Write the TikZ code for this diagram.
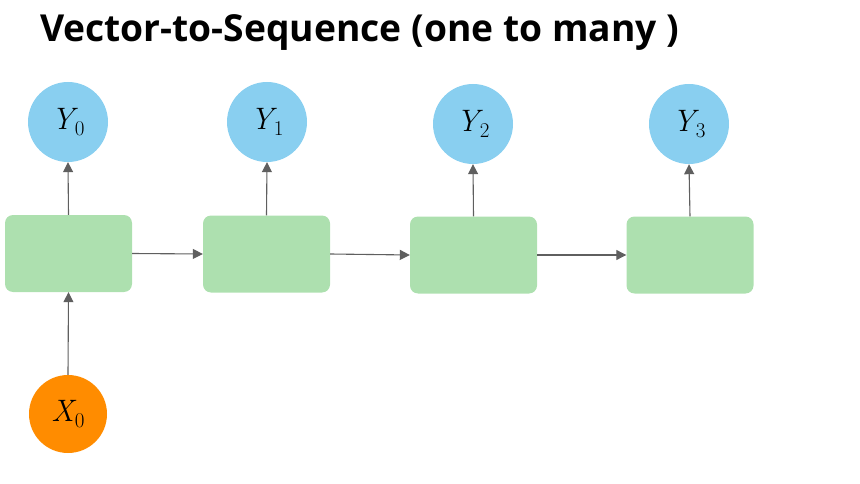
\documentclass[tikz,border=0pt]{standalone}
\usepackage{fontspec}
\setsansfont{Open Sans}
\usetikzlibrary{arrows.meta}
\definecolor{ybl}{HTML}{89CFF0}
\definecolor{cgr}{HTML}{ADE0AF}
\definecolor{xor}{HTML}{FF8C00}
\definecolor{agr}{HTML}{5F5F5F}
\newcommand{\lbl}[2]{{\itshape #1}\kern1pt\raisebox{-6pt}{\fontsize{21}{22}\selectfont #2}}
\tikzset{
  cell/.style={fill=cgr, draw=none, rounded corners=8pt, minimum width=127pt, minimum height=77pt, inner sep=0pt},
  outc/.style={circle, fill=ybl, draw=none, minimum size=80pt, inner sep=0pt, font=\fontsize{31}{33}\selectfont},
  inc/.style={circle, fill=xor, draw=none, minimum size=78pt, inner sep=0pt, font=\fontsize{31}{33}\selectfont},
  conn/.style={draw=agr, line width=1.1pt, -{Triangle[length=10pt,width=10pt]}}
}
\begin{document}
\begin{tikzpicture}[x=1pt,y=-1pt]
\useasboundingbox (0,0) rectangle (860,484);
\node[anchor=base west, inner sep=0pt, font=\sffamily\bfseries\fontsize{37.2}{40}\selectfont] (title) at (40,42) {Vector-to-Sequence (one to many )};
\node[cell] (c0) at (68.5,253.5) {};
\node[cell] (c1) at (266.5,254) {};
\node[cell] (c2) at (473.5,255) {};
\node[cell] (c3) at (690,255) {};
\node[outc] (y0) at (68,122) {\lbl{Y}{0}};
\node[outc] (y1) at (267,122) {\lbl{Y}{1}};
\node[outc] (y2) at (473,124) {\lbl{Y}{2}};
\node[outc] (y3) at (689,124) {\lbl{Y}{3}};
\node[inc] (x0) at (68,414) {\lbl{X}{0}};
\draw[conn] (c0.north) -- (y0.south);
\draw[conn] (c1.north) -- (y1.south);
\draw[conn] (c2.north) -- (y2.south);
\draw[conn] (c3.north) -- (y3.south);
\draw[conn] (x0.north) -- (c0.south);
\draw[conn] (c0.east) -- (c1.west);
\draw[conn] (c1.east) -- (c2.west);
\draw[conn] (c2.east) -- (c3.west);
\end{tikzpicture}
\end{document}
